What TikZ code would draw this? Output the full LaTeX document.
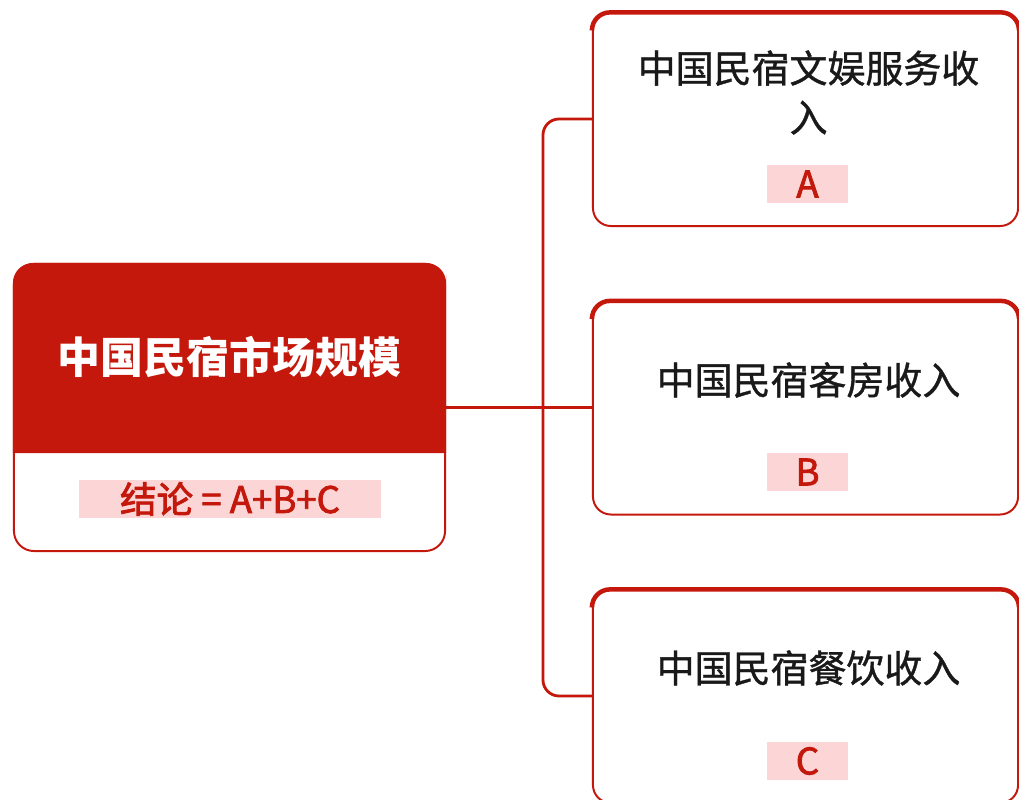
\documentclass[tikz,border=0pt]{standalone}
\usepackage{fontspec}
\newfontfamily\cjk{Noto Sans CJK SC}
\newfontfamily\cjkmed[FakeBold=1]{Noto Sans CJK SC}
\newfontfamily\cjktag[FakeBold=2.2]{Noto Sans CJK SC}
\usetikzlibrary{positioning, calc}
\definecolor{mred}{RGB}{196,24,12}
\definecolor{mpink}{RGB}{252,214,214}
\tikzset{
  mainbox/.style={draw=mred, line width=1.4pt, rounded corners=0.5cm, minimum width=10.775cm, minimum height=7.175cm},
  incomebox/.style={draw=mred, line width=1.4pt, rounded corners=0.45cm, minimum width=10.625cm, minimum height=5.35cm},
  topbar/.style={mred, line width=3.2pt, rounded corners=0.45cm},
  link/.style={mred, line width=2pt, rounded corners=0.4cm},
  tagbox/.style={fill=mpink, text=mred, font=\cjktag\fontsize{26}{30}\selectfont, inner sep=0pt, minimum height=0.95cm},
  itemtext/.style={align=center, font=\cjkmed\fontsize{27}{35}\selectfont, text=black!90}
}

\begin{document}
\begin{tikzpicture}[x=0.025cm, y=-0.025cm]
    \useasboundingbox (0,0) rectangle (1019,800);

    % 市场规模
    \node[mainbox] (market) at (229.5,407.5) {};
    \coordinate (hdr) at ($(market.south west)+(0,-99)$);
    \fill[mred] (hdr) [rounded corners=0.5cm] |- (market.north) -| ([yshift=-0.8cm]market.north east)
        [sharp corners] -- (market.east |- hdr) -- cycle;
    \node[text=white, font=\cjk\bfseries\fontsize{30.5}{36}\selectfont] (title) at ($(market.center)+(0,-50.5)$) {中国民宿市场规模};
    \node[tagbox, minimum width=7.55cm] (sum) at ($(market.center)+(0.5,91.5)$) {结论 = A+B+C};

    % 收入
    \node[incomebox] (fun) at (805.5,119) {};
    \node[incomebox] (room) at (805.5,407.5) {};
    \node[incomebox] (food) at (805.5,696) {};
    \foreach \b in {fun, room, food}
        \draw[topbar] ([yshift=-0.45cm]\b.north west) |- ([yshift=-1pt]\b.north) -| ([yshift=-0.45cm]\b.north east);

    \node[itemtext] (funtext) at ($(fun.center)+(3,-26.5)$) {中国民宿文娱服务收\\入};
    \node[tagbox, minimum width=2.025cm] (a) at ($(fun.center)+(2,65)$) {A};
    \node[itemtext] (roomtext) at ($(room.center)+(3,-27.5)$) {中国民宿客房收入};
    \node[tagbox, minimum width=2.025cm] (b) at ($(room.center)+(2,64.5)$) {B};
    \node[itemtext] (foodtext) at ($(food.center)+(3,-28)$) {中国民宿餐饮收入};
    \node[tagbox, minimum width=2.025cm] (c) at ($(food.center)+(2,65)$) {C};

    % 连线
    \coordinate (fork) at (543,407.5);
    \draw[link] (market.east) -- (room.west);
    \draw[link] (fun.west) -| (fork) |- (food.west);
\end{tikzpicture}
\end{document}
